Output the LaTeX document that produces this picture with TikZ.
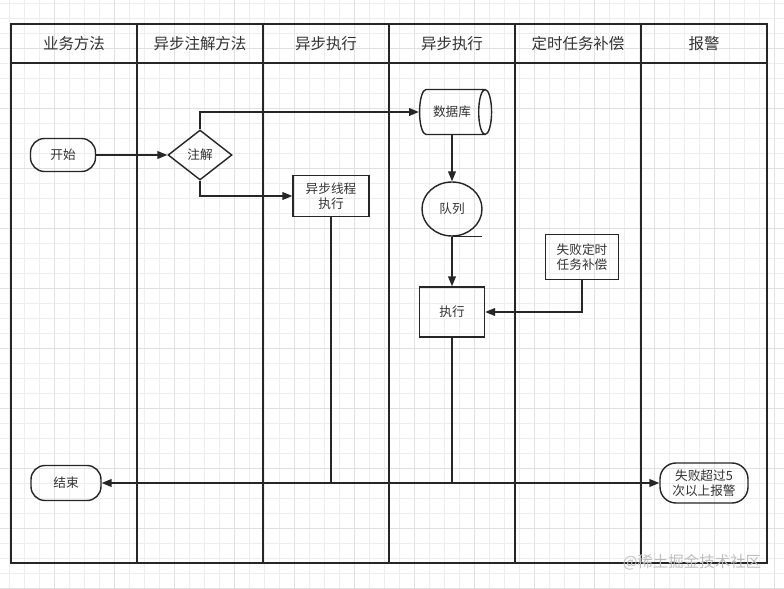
\documentclass[tikz,border=0pt]{standalone}
\usepackage{fontspec}
\setmainfont{Noto Sans CJK SC}
\usetikzlibrary{shapes.geometric, arrows.meta}

\begin{document}
\begin{tikzpicture}[x=0.25mm, y=-0.25mm,
    every node/.style={font=\fontsize{9}{11}\selectfont, text=black!80},
    box/.style={draw=black!85, line width=1pt, inner sep=0pt, align=center},
    term/.style={box, rounded corners=3.5mm},
    lane/.style={line width=1.4pt, black!85},
    flow/.style={line width=1pt, black!85, -{Triangle[length=7pt,width=5.5pt]}},
    title/.style={font=\fontsize{11}{13}\selectfont}]

    % --- 1. 背景網格 ---
    \useasboundingbox (0,0) rectangle (784,589);
    \fill[white] (0,0) rectangle (784,589);
    \foreach \gx in {9,24,...,784} \draw[black!7, line width=0.4pt] (\gx,0) -- (\gx,589);
    \foreach \gy in {3,18,...,589} \draw[black!7, line width=0.4pt] (0,\gy) -- (784,\gy);
    \foreach \gx in {54,114,...,784} \draw[black!12, line width=0.4pt] (\gx,0) -- (\gx,589);
    \foreach \gy in {48,108,...,589} \draw[black!12, line width=0.4pt] (0,\gy) -- (784,\gy);

    % --- 2. 泳道與標題 ---
    \def\laneW{126}
    \draw[lane] (11,24) rectangle (767,563);
    \draw[lane] (11,63) -- (767,63);
    \foreach \cx in {137,263,389,515,641} \draw[lane] (\cx,24) -- (\cx,563);
    \foreach \i/\txt in {1/业务方法, 2/异步注解方法, 3/异步执行, 4/异步执行, 5/定时任务补偿, 6/报警}
        \node[title] (h\i) at ({11+\laneW*(\i-0.5)},44) {\txt};

    % --- 3. 流程節點 ---
    \node[term, minimum width=16.25mm, minimum height=8.25mm] (start) at (63,155) {开始};
    \node[box, diamond, aspect=1.28, minimum width=16mm, minimum height=12.5mm] (anno) at (200,155) {注解};
    \node[box, cylinder, aspect=1.1, minimum height=18mm, minimum width=11.25mm] (db) at (452,112) {数据库};
    \node[box, minimum width=19mm, minimum height=10.25mm] (async) at (331,196) {异步线程\\执行};
    \node[box, ellipse, minimum width=15mm, minimum height=13.5mm] (queue) at (452,209) {队列};
    \coordinate (qtail) at (482,235);
    \node[box, minimum width=18.25mm, minimum height=11.25mm] (retry) at (582,257) {失败定时\\任务补偿};
    \node[box, minimum width=16.25mm, minimum height=12.5mm] (exec) at (452,312) {执行};
    \node[term, minimum width=17.5mm, minimum height=8.75mm] (end) at (66,483) {结束};
    \node[term, minimum width=22mm, minimum height=10mm, rounded corners=4mm] (alarm) at (704,483) {失败超过5\\次以上报警};

    % --- 4. 連線 ---
    \draw[line width=1pt, black!85] (queue.south) -- (queue.south -| qtail);
    \draw[flow] (start) -- (anno);
    \draw[flow] (anno.north) |- (db.west);
    \draw[flow] (anno.south) |- (async.west);
    \draw[flow] (queue.north |- db.south) -- (queue.north);
    \draw[flow] (queue.south) -- (exec.north);
    \draw[flow] (retry.south) |- (exec.east);
    \draw[flow] (exec.south) |- (end.east);
    \draw[flow] (exec.south) |- (alarm.west);
    \draw[line width=1pt, black!85] (async.south) -- (async.south |- end.east);

    % --- 5. 水印 ---
    \node[font=\fontsize{11}{13}\selectfont, text=black!25] (mark) at (692,562) {@稀土掘金技术社区};
\end{tikzpicture}
\end{document}
